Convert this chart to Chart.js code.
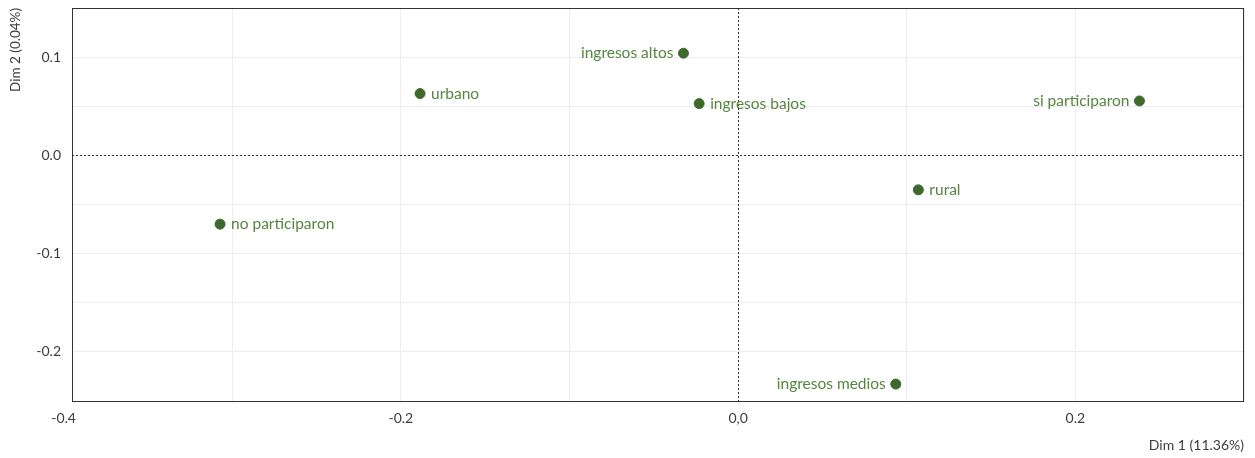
<!DOCTYPE html>
<html lang="es">
<head>
    <meta charset="UTF-8">
    <title>Dim 1 vs Dim 2</title>
    <script src="https://cdn.jsdelivr.net/npm/chart.js"></script>
    <style>
        html, body { margin: 0; padding: 0; background: #fff; }
        #wrap { width: 1255px; height: 458px; }
    </style>
</head>
<body>
    <div id="wrap"><canvas id="chart"></canvas></div>

    <script>
        // categorias y coordenadas
        const categories = ['ingresos altos', 'urbano', 'ingresos bajos', 'si participaron', 'rural', 'no participaron', 'ingresos medios'];
        const dim1 = [-0.0324, -0.1886, -0.0231, 0.2380, 0.1069, -0.3072, 0.0935];
        const dim2 = [0.1040, 0.0629, 0.0527, 0.0554, -0.0351, -0.0700, -0.2328];
        const labelSide = ['left', 'right', 'right', 'left', 'right', 'right', 'left'];

        // ticks
        const xTicks = [-0.4, -0.3, -0.2, -0.1, 0, 0.1, 0.2, 0.3];
        const xTickLabels = ['-0.4', '', '-0.2', '', '0,0', '', '0.2', ''];
        const yTicks = [-0.25, -0.2, -0.15, -0.1, -0.05, 0, 0.05, 0.1, 0.15];
        const yTickLabels = ['', '-0.2', '', '-0.1', '', '0.0', '', '0.1', ''];

        const FONT = 'Lato, "DejaVu Sans", sans-serif';

        const points = dim1.map((x, i) => ({ x: x, y: dim2[i] }));

        // lineas punteadas en cero + marco + etiquetas
        const extras = {
            id: 'extras',
            beforeDatasetsDraw(chart) {
                const c = chart.ctx, a = chart.chartArea;
                const x0 = Math.round(chart.scales.x.getPixelForValue(0)) + 0.5;
                const y0 = Math.round(chart.scales.y.getPixelForValue(0)) + 0.5;
                c.save();
                c.strokeStyle = '#333';
                c.lineWidth = 1;
                c.setLineDash([2, 2]);
                c.beginPath();
                c.moveTo(x0, a.top); c.lineTo(x0, a.bottom);
                c.moveTo(a.left, y0); c.lineTo(a.right, y0);
                c.stroke();
                c.restore();
            },
            afterDatasetsDraw(chart) {
                const c = chart.ctx, a = chart.chartArea;
                const meta = chart.getDatasetMeta(0);
                c.save();
                c.font = '15.5px ' + FONT;
                c.fillStyle = '#55853f';
                c.textBaseline = 'middle';
                meta.data.forEach((p, i) => {
                    if (labelSide[i] === 'left') {
                        c.textAlign = 'right';
                        c.fillText(categories[i], p.x - 10, p.y);
                    } else {
                        c.textAlign = 'left';
                        c.fillText(categories[i], p.x + 11, p.y);
                    }
                });
                c.strokeStyle = '#333';
                c.lineWidth = 1;
                c.strokeRect(Math.round(a.left) + 0.5, Math.round(a.top) + 0.5,
                    Math.round(a.right - a.left) - 1, Math.round(a.bottom - a.top));
                c.restore();
            }
        };

        const gridColor = ctx => (ctx.tick && ctx.tick.value < -0.396) ? 'rgba(0,0,0,0)' : '#ededed';

        new Chart(document.getElementById('chart'), {
            type: 'scatter',
            data: {
                datasets: [{
                    data: points,
                    backgroundColor: '#3d6a2c',
                    borderColor: '#3d6a2c',
                    pointRadius: 5,
                    pointHoverRadius: 5
                }]
            },
            options: {
                responsive: true,
                maintainAspectRatio: false,
                animation: false,
                layout: { padding: { top: 8, right: 11, left: 0, bottom: 0 } },
                plugins: { legend: { display: false }, tooltip: { enabled: false } },
                scales: {
                    x: {
                        type: 'linear',
                        min: -0.395,
                        max: 0.3,
                        afterBuildTicks: s => { s.ticks = xTicks.map(v => ({ value: v })); },
                        afterFit: s => { s.height = 57; s.paddingLeft = 0; s.paddingRight = 0; },
                        grid: { color: gridColor, drawTicks: false },
                        border: { display: false },
                        ticks: {
                            autoSkip: false,
                            maxRotation: 0,
                            padding: 9,
                            color: '#3c3c3c',
                            font: { family: FONT, size: 14 },
                            callback: (v, i) => xTickLabels[i]
                        },
                        title: {
                            display: true,
                            text: 'Dim 1 (11.36%)',
                            align: 'end',
                            color: '#3c3c3c',
                            font: { family: FONT, size: 14 },
                            padding: { top: 4 }
                        }
                    },
                    y: {
                        type: 'linear',
                        min: -0.25,
                        max: 0.15,
                        afterBuildTicks: s => { s.ticks = yTicks.map(v => ({ value: v })); },
                        afterFit: s => { s.width = 72; s.paddingTop = 0; s.paddingBottom = 0; },
                        grid: { color: '#ededed', drawTicks: false },
                        border: { display: false },
                        ticks: {
                            autoSkip: false,
                            padding: 11,
                            color: '#3c3c3c',
                            font: { family: FONT, size: 14 },
                            callback: (v, i) => yTickLabels[i]
                        },
                        title: {
                            display: true,
                            text: 'Dim 2 (0.04%)',
                            align: 'end',
                            color: '#3c3c3c',
                            font: { family: FONT, size: 13.5 },
                            padding: { top: 8, bottom: 4 }
                        }
                    }
                }
            },
            plugins: [extras]
        });
    </script>
</body>
</html>
